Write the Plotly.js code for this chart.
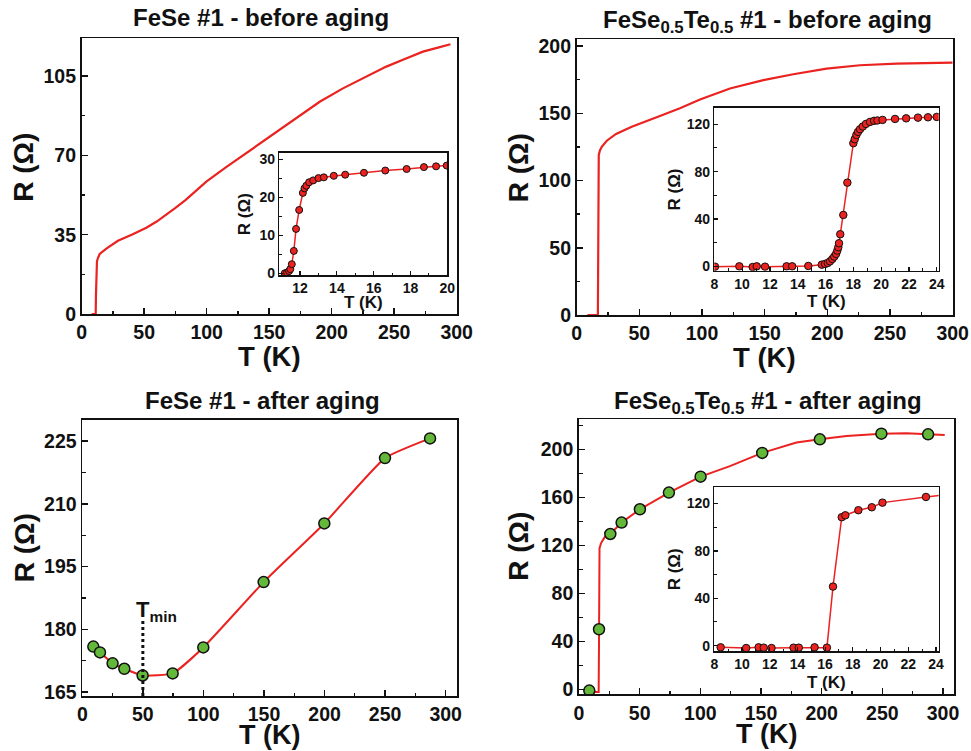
<!DOCTYPE html>
<html>
<head>
<meta charset="utf-8">
<script src="https://cdn.plot.ly/plotly-3.0.1.min.js"></script>
<style>
  html, body { margin: 0; padding: 0; background: #fff; }
  #chart { width: 971px; height: 751px; }
</style>
</head>
<body>
<div id="chart"></div>
<script>
// ---- FeSe #1, before aging: full R(T) curve ----
const feseBeforeT = [8, 11.2, 11.4, 11.7, 12.2, 12.9, 14.4, 20, 29, 40, 51.7, 60, 67.7, 75, 83, 91, 99.7, 115, 131.7, 150.4, 169, 190.4, 209, 226, 243.7, 258, 273, 285, 295];
const feseBeforeR = [0, 0, 8, 20, 23.2, 24.6, 26.5, 29, 32.3, 35, 38.1, 40.8, 43.7, 46.8, 50.3, 54.2, 58.4, 64.6, 71, 78.2, 85.4, 93.7, 99.6, 104.4, 109.2, 112.5, 115.8, 117.6, 119.1];

// FeSe #1, before aging: superconducting transition
const feseBeforeZoomT = [11.17, 11.29, 11.4, 11.47, 11.55, 11.66, 11.78, 11.95, 12.15, 12.24, 12.34, 12.49, 12.71, 13.0, 13.29, 13.83, 14.45, 15.47, 16.63, 17.79, 18.73, 19.39, 19.97];
const feseBeforeZoomR = [0, 0.2, 0.6, 1.1, 2.4, 5.9, 11.7, 16.7, 21.2, 22.4, 23.1, 24.0, 24.5, 25.1, 25.3, 25.7, 26.0, 26.5, 27.1, 27.5, 28.0, 28.2, 28.4];

// ---- FeSe0.5Te0.5 #1, before aging ----
const fstBeforeT = [8.5, 16.9, 17.6, 18.6, 20, 24, 31.4, 43.9, 63.8, 82.4, 98.4, 122.3, 148.9, 172.8, 199.4, 226, 255.3, 300];
const fstBeforeR = [0, 0, 119, 122.5, 125.1, 129.6, 134.6, 140, 147, 153.7, 160.2, 168.4, 174.6, 179, 183.2, 185.7, 186.9, 187.7];

const fstBeforeZoomT = [8.05, 9.8, 10.76, 11.05, 11.65, 13.2, 13.6, 14.76, 15.73, 15.96, 16.16, 16.32, 16.49, 16.63, 16.76, 16.85, 16.92, 16.97, 17.06, 17.28, 17.57, 18.0, 18.1, 18.22, 18.34, 18.48, 18.68, 18.91, 19.2, 19.49, 19.73, 20.1, 21.0, 21.8, 22.65, 23.37, 24.0];
const fstBeforeZoomR = [-0.3, 0, -0.6, 0, -0.3, 0, 0, 0.3, 1.4, 2.0, 2.8, 4.2, 6.2, 8.2, 10.5, 13.3, 16.1, 19.5, 27.1, 43.4, 70.7, 104, 107.4, 111, 113.6, 115.8, 118.1, 120.3, 122, 122.9, 123.2, 123.7, 124.5, 125, 125.6, 125.9, 126.2];

// ---- FeSe #1, after aging ----
const feseAfterT = [9.1, 14.6, 25, 34.7, 49.8, 74.6, 99.9, 149.7, 199.8, 249.9, 287.1];
const feseAfterR = [175.9, 174.5, 171.9, 170.6, 169, 169.5, 175.7, 191.3, 205.3, 220.9, 225.6];
const tMin = 50;

// ---- FeSe0.5Te0.5 #1, after aging ----
const fstAfterCurveT = [11.8, 16.2, 16.5, 16.9, 18.1, 21.4, 25.8, 35.1, 50.2, 74.1, 100.2, 124.4, 151, 179.2, 198.5, 220.4, 249.2, 269.8, 287.7, 301.4];
const fstAfterCurveR = [-2.3, -2.3, 40, 117.5, 121.6, 127.2, 129.4, 138.9, 150, 163.9, 177.2, 186, 197, 205.6, 208.3, 211, 213, 213.3, 212.5, 211.9];
const fstAfterPointsT = [8.5, 16.5, 25.8, 35.1, 50.2, 74.1, 100.2, 151, 198.5, 249.2, 287.7];
const fstAfterPointsR = [-1.1, 50, 129.4, 138.9, 150, 163.9, 177.2, 197, 208.3, 213, 212.5];

const fstAfterZoomT = [8.46, 10.3, 11.2, 11.57, 12.13, 13.72, 14.1, 15.24, 16.13, 16.57, 17.2, 17.46, 18.4, 19.37, 20.14, 23.28];
const fstAfterZoomR = [-1.4, -2, -1.4, -1.7, -2, -1.7, -1.7, -1.4, -1.7, 49.9, 108.5, 110.1, 114.4, 116.9, 120.8, 125.6];
// the measured curve continues past the last marked point
const fstAfterZoomTailT = [24.4];
const fstAfterZoomTailR = [127];

// ---------------- styling ----------------
const W = 971, H = 751;
const FONT = '"Liberation Sans", Arial, Helvetica, sans-serif';
const RED = '#ea2220';
const GREEN = '#63b83a';
const INK = '#111111';
const px = v => v / W;
const py = v => 1 - v / H;

function axis(d0, d1, range, tick0, dtick, minorDtick, anchor, inset, isY) {
  const dom = isY ? [py(d1), py(d0)] : [px(d0), px(d1)];
  return {
    domain: dom,
    range: range,
    anchor: anchor,
    showline: true,
    mirror: true,
    linecolor: INK,
    linewidth: inset ? 1.5 : 1.8,
    ticks: 'inside',
    ticklen: inset ? 4 : 6,
    tickwidth: inset ? 1.2 : 1.5,
    tickcolor: INK,
    tick0: tick0,
    dtick: dtick,
    minor: { ticks: 'inside', ticklen: inset ? 2.5 : 3.5, tickwidth: inset ? 1 : 1.3, tickcolor: INK, dtick: minorDtick, tick0: tick0, showgrid: false },
    showgrid: false,
    zeroline: false,
    ticklabelstandoff: 0,
    tickfont: { family: FONT, size: inset ? 14 : 19.5, weight: 'bold', color: INK },
    fixedrange: true
  };
}

const traces = [
  { x: feseBeforeT, y: feseBeforeR, xaxis: 'x', yaxis: 'y', mode: 'lines',
    line: { color: RED, width: 2.2 } },
  { x: fstBeforeT, y: fstBeforeR, xaxis: 'x2', yaxis: 'y2', mode: 'lines',
    line: { color: RED, width: 2.2 } },
  { x: feseAfterT, y: feseAfterR, xaxis: 'x3', yaxis: 'y3', mode: 'lines+markers',
    line: { color: RED, width: 2, shape: 'spline', smoothing: 0.45 },
    marker: { color: GREEN, size: 11, line: { color: INK, width: 1.5 } } },
  { x: fstAfterCurveT, y: fstAfterCurveR, xaxis: 'x4', yaxis: 'y4', mode: 'lines',
    line: { color: RED, width: 2 } },
  { x: fstAfterPointsT, y: fstAfterPointsR, xaxis: 'x4', yaxis: 'y4', mode: 'markers',
    marker: { color: GREEN, size: 11, line: { color: INK, width: 1.5 } } },
  { x: feseBeforeZoomT, y: feseBeforeZoomR, xaxis: 'x5', yaxis: 'y5', mode: 'lines+markers',
    line: { color: RED, width: 1.5 },
    marker: { color: RED, size: 7, line: { color: INK, width: 1 } } },
  { x: fstBeforeZoomT, y: fstBeforeZoomR, xaxis: 'x6', yaxis: 'y6', mode: 'lines+markers',
    line: { color: RED, width: 1.5 },
    marker: { color: RED, size: 7.5, line: { color: INK, width: 1 } } },
  { x: fstAfterZoomT.concat(fstAfterZoomTailT), y: fstAfterZoomR.concat(fstAfterZoomTailR),
    xaxis: 'x7', yaxis: 'y7', mode: 'lines', line: { color: RED, width: 1.5 } },
  { x: fstAfterZoomT, y: fstAfterZoomR, xaxis: 'x7', yaxis: 'y7', mode: 'markers',
    marker: { color: RED, size: 7.5, line: { color: INK, width: 1 } } }
];

// plot boxes in pixels: [left, right, top, bottom]
const B1 = [81.7, 456.7, 38.3, 314];
const B2 = [576.7, 952.7, 39.3, 315];
const B3 = [82.3, 457.3, 420, 696];
const B4 = [579, 954.3, 419.3, 694.3];
const I1 = [279.3, 447.3, 152.7, 275];
const I2 = [714.3, 938.7, 107.7, 270.7];
const I4 = [714.3, 938.7, 487, 651];

function titleAnn(text, cx, cy) {
  return { text: text, xref: 'paper', yref: 'paper', x: px(cx), y: py(cy),
    xanchor: 'center', yanchor: 'middle', showarrow: false,
    font: { family: FONT, size: 24, weight: 'bold', color: INK } };
}
function yTitle(box, dist, size, dy) {
  return { text: 'R (Ω)', xref: 'paper', yref: 'paper', x: px(box[0] - dist),
    y: py((box[2] + box[3]) / 2 - dy), textangle: -90, xanchor: 'center', yanchor: 'middle',
    showarrow: false, font: { family: FONT, size: size, weight: 'bold', color: INK } };
}
function xTitle(box, dist, size) {
  return { text: 'T (K)', xref: 'paper', yref: 'paper', x: px((box[0] + box[1]) / 2),
    y: py(box[3] + dist), xanchor: 'center', yanchor: 'middle',
    showarrow: false, font: { family: FONT, size: size, weight: 'bold', color: INK } };
}

const layout = {
  width: W, height: H,
  margin: { l: 0, r: 0, t: 0, b: 0 },
  paper_bgcolor: '#ffffff',
  plot_bgcolor: '#ffffff',
  showlegend: false,
  xaxis:  axis(B1[0], B1[1], [0, 300], 0, 50, 25, 'y', false, false),
  yaxis:  axis(B1[2], B1[3], [0, 121.7], 0, 35, 17.5, 'x', false, true),
  xaxis2: axis(B2[0], B2[1], [0, 300], 0, 50, 25, 'y2', false, false),
  yaxis2: axis(B2[2], B2[3], [0, 205], 0, 50, 25, 'x2', false, true),
  xaxis3: axis(B3[0], B3[1], [0, 309.6], 0, 50, 25, 'y3', false, false),
  yaxis3: axis(B3[2], B3[3], [164.1, 230], 165, 15, 7.5, 'x3', false, true),
  xaxis4: axis(B4[0], B4[1], [0, 309.3], 0, 50, 25, 'y4', false, false),
  yaxis4: axis(B4[2], B4[3], [-4.2, 225], 0, 40, 20, 'x4', false, true),
  xaxis5: axis(I1[0], I1[1], [10.87, 20], 0, 2, 1, 'y5', true, false),
  yaxis5: axis(I1[2], I1[3], [-0.45, 31.8], 0, 10, 5, 'x5', true, true),
  xaxis6: axis(I2[0], I2[1], [8, 24.14], 0, 2, 1, 'y6', true, false),
  yaxis6: axis(I2[2], I2[3], [-3.7, 134], 0, 40, 20, 'x6', true, true),
  xaxis7: axis(I4[0], I4[1], [8, 24.2], 0, 2, 1, 'y7', true, false),
  yaxis7: axis(I4[2], I4[3], [-4.5, 134], 0, 40, 20, 'x7', true, true),
  shapes: [
    { type: 'line', xref: 'x3', yref: 'y3', x0: tMin, x1: tMin, y0: 164.1, y1: 182,
      line: { color: INK, width: 3, dash: 'dot' } }
  ],
  annotations: [
    titleAnn('FeSe #1 - before aging', 261, 18),
    titleAnn('FeSe<sub>0.5</sub>Te<sub>0.5</sub> #1 - before aging', 767, 21),
    titleAnn('FeSe #1 - after aging', 262, 400),
    titleAnn('FeSe<sub>0.5</sub>Te<sub>0.5</sub> #1 - after aging', 768, 402),
    yTitle(B1, 59, 28, 9), yTitle(B2, 58.5, 28, 9), yTitle(B3, 58, 28, 10), yTitle(B4, 60, 28, 10),
    xTitle(B1, 42, 27.5), xTitle(B2, 42, 27.5), xTitle(B3, 38.5, 27), xTitle(B4, 39.5, 27),
    yTitle(I1, 34, 17, 0), yTitle(I2, 40, 17, 0), yTitle(I4, 40, 17, 0),
    xTitle(I1, 27, 17), xTitle(I2, 31, 17), xTitle(I4, 31, 17),
    { text: 'T<sub>min</sub>', xref: 'x3', yref: 'paper', x: tMin - 7.5, y: py(611),
      xanchor: 'left', yanchor: 'middle', showarrow: false,
      font: { family: FONT, size: 22, weight: 'bold', color: INK } }
  ]
};

Plotly.newPlot('chart', traces, layout, { staticPlot: true, displayModeBar: false });
</script>
</body>
</html>
